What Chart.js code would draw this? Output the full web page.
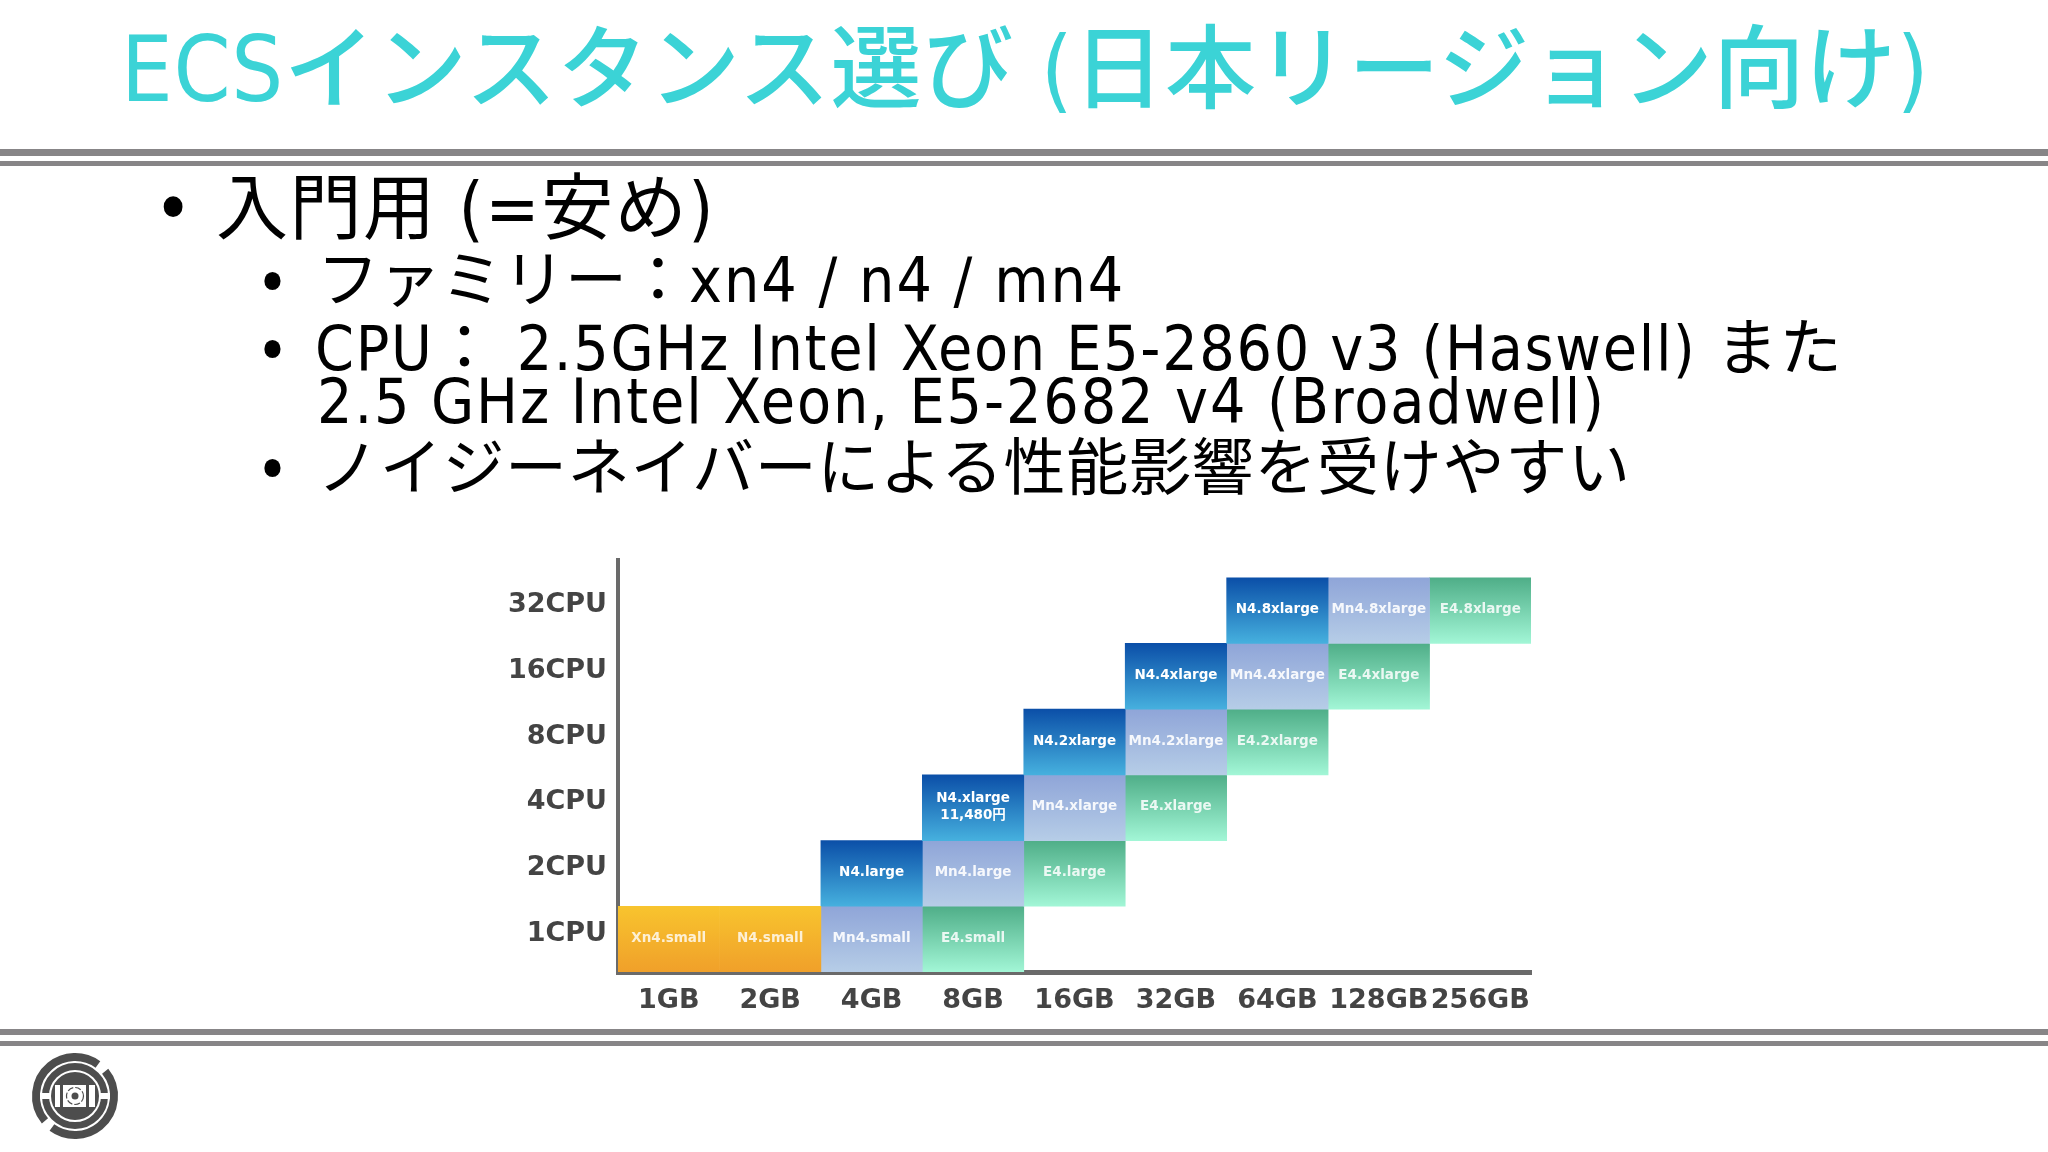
<!DOCTYPE html>
<html lang="ja"><head><meta charset="utf-8">
<script src="https://cdn.jsdelivr.net/npm/chart.js@4"></script>
<style>
html,body{margin:0;padding:0;background:#fff;overflow:hidden}
#slide{position:relative;width:2048px;height:1152px;background:#fff;font-family:"DejaVu Sans Condensed","DejaVu Sans","Noto Sans CJK JP",sans-serif}
.t{position:absolute;white-space:pre;line-height:1;font-weight:400}
#title{left:121px;top:24px;font-size:91px;color:#3bd3d6;font-weight:500;letter-spacing:0.7px}
.l1{font-size:72px;color:#000;letter-spacing:1.5px}
.l2{font-size:62px;color:#000}
.rule{position:absolute;left:0;width:2048px;background:#878587}
canvas{position:absolute;left:480px;top:545px;filter:blur(0.5px)}
#logo{position:absolute;left:28px;top:1049px}
</style></head><body>
<div id="slide">
<div class="t" id="title">ECSインスタンス選び (日本リージョン向け)</div>
<div class="rule" style="top:149px;height:7px"></div>
<div class="rule" style="top:161px;height:5px"></div>
<div class="t l1" style="left:154px;top:172px">•</div>
<div class="t l1" style="left:216px;top:172px">入門用 (=安め)</div>
<div class="t l2" style="left:256px;top:252px">•</div>
<div class="t l2" style="left:317px;top:250px"><span>ファミリー：</span><span style="letter-spacing:2px">xn4 / n4 / mn4</span></div>
<div class="t l2" style="left:256px;top:320px">•</div>
<div class="t l2" style="left:315px;top:318px;letter-spacing:1.7px">CPU： 2.5GHz Intel Xeon E5-2860 v3 (Haswell) また</div>
<div class="t l2" style="left:317px;top:371px;letter-spacing:1.9px">2.5 GHz Intel Xeon, E5-2682 v4 (Broadwell)</div>
<div class="t l2" style="left:256px;top:439px">•</div>
<div class="t l2" style="left:317px;top:438px;letter-spacing:0.7px">ノイジーネイバーによる性能影響を受けやすい</div>
<canvas id="c" width="1080" height="478"></canvas>
<div class="rule" style="top:1029px;height:6px"></div>
<div class="rule" style="top:1041px;height:5px"></div>
<svg id="logo" width="94" height="94" viewBox="-47 -47 94 94">
<circle r="39" fill="none" stroke="#4d4d4d" stroke-width="8" stroke-dasharray="112.5 10" transform="rotate(140.4)"/>
<circle r="29.5" fill="none" stroke="#4d4d4d" stroke-width="7"/>
<rect x="-35" y="-3" width="10" height="6" fill="#fff"/>
<rect x="25" y="-3" width="10" height="6" fill="#fff"/>
<circle r="24" fill="#4d4d4d"/>
<rect x="-20" y="-11" width="5" height="22" fill="#fff"/>
<rect x="-12" y="-11" width="23" height="22" fill="#fff"/>
<rect x="14" y="-11" width="6" height="22" fill="#fff"/>
<circle r="8.5" fill="none" stroke="#4d4d4d" stroke-width="1.2" stroke-dasharray="6 2"/>
<circle r="3.5" fill="#4d4d4d"/>
</svg>
</div>
<script>
const memLabels=['1GB','2GB','4GB','8GB','16GB','32GB','64GB','128GB','256GB'];
const cpuLabels=['1CPU','2CPU','4CPU','8CPU','16CPU','32CPU'];
const xn4Names=['Xn4.small','N4.small'];
const xn4Mem=['1GB','2GB'];
const xn4Cpu=['1CPU','1CPU'];
const n4Names=['N4.large','N4.xlarge\n11,480円','N4.2xlarge','N4.4xlarge','N4.8xlarge'];
const n4Mem=['4GB','8GB','16GB','32GB','64GB'];
const n4Cpu=['2CPU','4CPU','8CPU','16CPU','32CPU'];
const mn4Names=['Mn4.small','Mn4.large','Mn4.xlarge','Mn4.2xlarge','Mn4.4xlarge','Mn4.8xlarge'];
const mn4Mem=['4GB','8GB','16GB','32GB','64GB','128GB'];
const mn4Cpu=['1CPU','2CPU','4CPU','8CPU','16CPU','32CPU'];
const e4Names=['E4.small','E4.large','E4.xlarge','E4.2xlarge','E4.4xlarge','E4.8xlarge'];
const e4Mem=['8GB','16GB','32GB','64GB','128GB','256GB'];
const e4Cpu=['1CPU','2CPU','4CPU','8CPU','16CPU','32CPU'];

function cells(mem,cpu,names){
  return mem.map((m,i)=>{const r=cpuLabels.indexOf(cpu[i]);return {x:m,y:[r,r+1],name:names[i]};});
}
function grad(top,bottom){
  return function(ctx){
    const a=ctx.chart.chartArea, s=ctx.chart.scales.y;
    if(!a||!s||!ctx.raw) return bottom;
    const g=ctx.chart.ctx.createLinearGradient(0,s.getPixelForValue(ctx.raw.y[1]),0,s.getPixelForValue(ctx.raw.y[0]));
    g.addColorStop(0,top);g.addColorStop(1,bottom);
    return g;
  };
}
function ds(mem,cpu,names,top,bottom,textColor){
  return {data:cells(mem,cpu,names),backgroundColor:grad(top,bottom),borderWidth:0,barPercentage:1,categoryPercentage:1,grouped:false,textColor};
}
const cellText={
  id:'cellText',
  afterDatasetsDraw(chart){
    const c=chart.ctx;
    c.save();
    c.textAlign='center';c.textBaseline='middle';
    c.font='bold 13.5px "DejaVu Sans","Noto Sans CJK JP",sans-serif';
    chart.data.datasets.forEach((d,i)=>{
      c.fillStyle=d.textColor;
      chart.getDatasetMeta(i).data.forEach((el,j)=>{
        const lines=d.data[j].name.split('\n');
        const yc=(el.y+el.base)/2-1;
        lines.forEach((ln,k)=>c.fillText(ln,el.x,yc+(k-(lines.length-1)/2)*17));
      });
    });
    c.restore();
  }
};
Chart.defaults.animation=false;
new Chart(document.getElementById('c'),{
  type:'bar',
  data:{labels:memLabels,datasets:[
    ds(xn4Mem,xn4Cpu,xn4Names,'#f8c42e','#f0a02a','rgba(255,255,255,0.8)'),
    ds(n4Mem,n4Cpu,n4Names,'#0b4fa8','#46b0de','#ffffff'),
    ds(mn4Mem,mn4Cpu,mn4Names,'#8fa5d8','#b6cde7','rgba(255,255,255,0.9)'),
    ds(e4Mem,e4Cpu,e4Names,'#4fae88','#a2f6d6','rgba(255,255,255,0.85)')
  ]},
  plugins:[cellText],
  options:{
    responsive:false,devicePixelRatio:1,
    layout:{padding:{top:15,right:29,left:0,bottom:0}},
    plugins:{legend:{display:false},tooltip:{enabled:false}},
    scales:{
      x:{type:'category',offset:true,
        grid:{display:false,drawTicks:false},
        border:{display:true,color:'#6a6a6a',width:5},
        ticks:{color:'#444',font:{family:'"DejaVu Sans"',size:27,weight:'bold'},padding:13,maxRotation:0,autoSkip:false},
        afterFit(s){s.height=51;s.paddingLeft=0;s.paddingRight=0;}
      },
      y:{type:'linear',min:0,max:6.27,
        grid:{display:false,drawTicks:false},
        border:{display:true,color:'#6a6a6a',width:4},
        afterBuildTicks(s){s.ticks=cpuLabels.map((l,i)=>({value:i+0.58}));},
        ticks:{color:'#444',font:{family:'"DejaVu Sans"',size:27,weight:'bold'},padding:11,autoSkip:false,
          callback(v){return cpuLabels[Math.floor(v)];}},
        afterFit(s){s.width=138;s.paddingTop=0;s.paddingBottom=0;}
      }
    }
  }
});
</script>
</body></html>
